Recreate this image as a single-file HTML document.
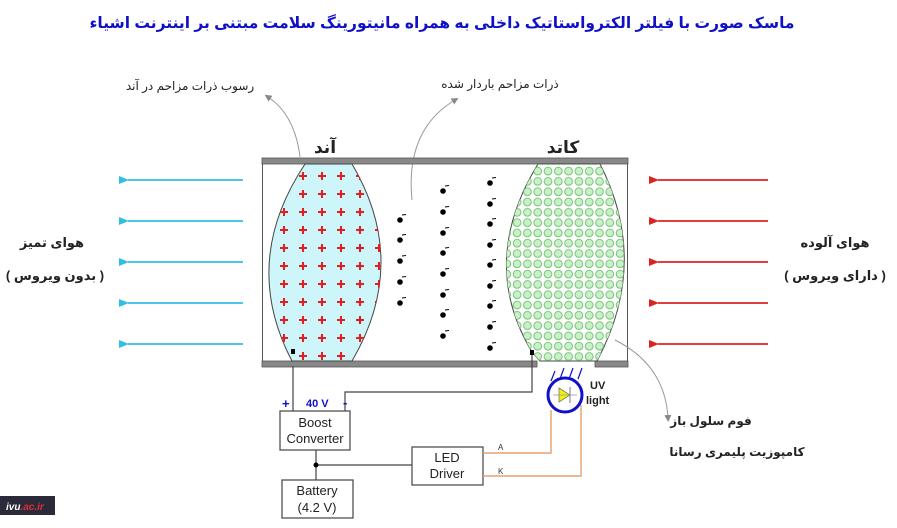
<!DOCTYPE html>
<html><head><meta charset="utf-8"><style>
body{margin:0;background:#fff;width:897px;height:523px;overflow:hidden}
text{font-family:"Liberation Sans","DejaVu Sans",sans-serif}
</style></head><body>
<svg width="897" height="523" viewBox="0 0 897 523" xmlns="http://www.w3.org/2000/svg">
<defs>
<pattern id="pl" x="276" y="171" width="19" height="18" patternUnits="userSpaceOnUse">
<path d="M4 5h8M8 1v8" stroke="#e02020" stroke-width="2"/>
</pattern>
<pattern id="ci" x="512" y="166" width="10.3" height="10.3" patternUnits="userSpaceOnUse">
<circle cx="5.1" cy="5.1" r="3.9" fill="#c9f0c9" stroke="#6cbf6c" stroke-width="0.9"/>
</pattern>
<marker id="ac" markerUnits="userSpaceOnUse" markerWidth="10" markerHeight="10" refX="1" refY="5" orient="auto"><path d="M10,1 L0,5 L10,9z" fill="#2ec0e0"/></marker>
<marker id="ar" markerUnits="userSpaceOnUse" markerWidth="10" markerHeight="10" refX="1" refY="5" orient="auto"><path d="M10,1 L0,5 L10,9z" fill="#dd2222"/></marker>
<marker id="ag" markerUnits="userSpaceOnUse" markerWidth="7" markerHeight="7" refX="3" refY="3.5" orient="auto"><path d="M0,0 L7,3.5 L0,7z" fill="#888"/></marker>
<g id="e1"><circle cx="0" cy="0" r="2.8" fill="#000"/><line x1="2" y1="-5" x2="6" y2="-5.5" stroke="#000" stroke-width="1"/></g>
</defs>
<text x="442" y="28" text-anchor="middle" font-size="15.5" font-weight="bold" fill="#1010c8" font-family="Liberation Sans,Noto Sans CJK SC,sans-serif">ماسک صورت با فیلتر الکترواستاتیک داخلی به همراه مانیتورینگ سلامت مبتنی بر اینترنت اشیاء</text>
<text x="190" y="90" text-anchor="middle" font-size="12" fill="#222">رسوب ذرات مزاحم در آند</text>
<text x="500" y="88" text-anchor="middle" font-size="12" fill="#222">ذرات مزاحم باردار شده</text>
<path d="M300 157 Q295 115 268 97" fill="none" stroke="#999" marker-end="url(#ag)"/>
<path d="M412 200 Q405 130 455 100" fill="none" stroke="#999" marker-end="url(#ag)"/>
<text x="325" y="153" text-anchor="middle" font-size="17" font-weight="bold" fill="#222">آند</text>
<text x="563" y="153" text-anchor="middle" font-size="17" font-weight="bold" fill="#222">کاتد</text>
<rect x="262" y="158" width="366" height="6" fill="#888" stroke="#555" stroke-width="0.8"/>
<rect x="262" y="361" width="275" height="6" fill="#888" stroke="#555" stroke-width="0.8"/>
<rect x="595" y="361" width="33" height="6" fill="#888" stroke="#555" stroke-width="0.8"/>
<line x1="262.5" y1="164" x2="262.5" y2="361" stroke="#555"/>
<line x1="627.5" y1="164" x2="627.5" y2="361" stroke="#555"/>
<path d="M305 164 Q240 262 292 361 L352 361 Q410 262 352 164Z" fill="#cdf5fa" stroke="#444"/>
<path d="M305 164 Q240 262 292 361 L352 361 Q410 262 352 164Z" fill="url(#pl)"/>
<path d="M538 164 Q478 262 532 352 L540 361 L597 361 Q650 262 600 164Z" fill="#fff" stroke="#444"/>
<path d="M538 164 Q478 262 532 352 L540 361 L597 361 Q650 262 600 164Z" fill="url(#ci)"/>
<g>
<use href="#e1" x="400" y="220"/><use href="#e1" x="400" y="240"/><use href="#e1" x="400" y="261"/><use href="#e1" x="400" y="282"/><use href="#e1" x="400" y="303"/>
<use href="#e1" x="443" y="191"/><use href="#e1" x="443" y="212"/><use href="#e1" x="443" y="233"/><use href="#e1" x="443" y="253"/><use href="#e1" x="443" y="274"/><use href="#e1" x="443" y="295"/><use href="#e1" x="443" y="315"/><use href="#e1" x="443" y="336"/>
<use href="#e1" x="490" y="183"/><use href="#e1" x="490" y="204"/><use href="#e1" x="490" y="224"/><use href="#e1" x="490" y="245"/><use href="#e1" x="490" y="265"/><use href="#e1" x="490" y="286"/><use href="#e1" x="490" y="306"/><use href="#e1" x="490" y="327"/><use href="#e1" x="490" y="348"/>
</g>
<g stroke="#2ec0e0" stroke-width="1.8">
<line x1="243" y1="180" x2="128" y2="180" marker-end="url(#ac)"/>
<line x1="243" y1="221" x2="128" y2="221" marker-end="url(#ac)"/>
<line x1="243" y1="262" x2="128" y2="262" marker-end="url(#ac)"/>
<line x1="243" y1="303" x2="128" y2="303" marker-end="url(#ac)"/>
<line x1="243" y1="344" x2="128" y2="344" marker-end="url(#ac)"/>
</g>
<g stroke="#dd2222" stroke-width="1.8">
<line x1="768" y1="180" x2="658" y2="180" marker-end="url(#ar)"/>
<line x1="768" y1="221" x2="658" y2="221" marker-end="url(#ar)"/>
<line x1="768" y1="262" x2="658" y2="262" marker-end="url(#ar)"/>
<line x1="768" y1="303" x2="658" y2="303" marker-end="url(#ar)"/>
<line x1="768" y1="344" x2="658" y2="344" marker-end="url(#ar)"/>
</g>
<g font-size="13" font-weight="bold" fill="#222" text-anchor="middle">
<text x="52" y="247">هوای تمیز</text>
<text x="55" y="280">( بدون ویروس )</text>
<text x="835" y="247">هوای آلوده</text>
<text x="835" y="280">( دارای ویروس )</text>
<text x="711" y="425" font-size="12">فوم سلول باز</text>
<text x="737" y="456" font-size="12">کامپوزیت پلیمری رسانا</text>
</g>
<path d="M615 340 Q665 365 668 418" fill="none" stroke="#999" marker-end="url(#ag)"/>
<g fill="none" stroke="#444" stroke-width="1.2">
<line x1="293" y1="366" x2="293" y2="411"/>
<polyline points="532,352 532,392 345,392 345,411"/>
<line x1="316" y1="450" x2="316" y2="480"/>
<line x1="316" y1="465" x2="412" y2="465"/>
<rect x="280" y="411" width="70" height="39" fill="#fff"/>
<rect x="282" y="480" width="71" height="38" fill="#fff"/>
<rect x="412" y="447" width="71" height="38" fill="#fff"/>
</g>
<rect x="291" y="349" width="4" height="5" fill="#000"/>
<rect x="530" y="350" width="4" height="5" fill="#000"/>
<circle cx="316" cy="465" r="2.5" fill="#000"/>
<g fill="none" stroke="#e8a070" stroke-width="1.4">
<polyline points="483,453 551,453 551,410"/>
<polyline points="483,476 581,476 581,405"/>
</g>
<circle cx="565" cy="395" r="17" fill="#fff" stroke="#1010c8" stroke-width="3"/>
<path d="M559 388 L570 395 L559 402Z" fill="#f2f20a" stroke="#777" stroke-width="0.8"/>
<line x1="570" y1="387" x2="570" y2="403" stroke="#777"/>
<line x1="553" y1="395" x2="577" y2="395" stroke="#999" stroke-width="0.8"/>
<g stroke="#1010c8" stroke-width="1.2">
<line x1="551" y1="381" x2="555" y2="371"/><line x1="560" y1="379" x2="564" y2="368"/><line x1="569" y1="379" x2="573" y2="368"/><line x1="578" y1="379" x2="582" y2="368"/>
</g>
<g font-size="13" fill="#222" text-anchor="middle">
<text x="315" y="427">Boost</text>
<text x="315" y="443">Converter</text>
<text x="317" y="495">Battery</text>
<text x="317" y="512">(4.2 V)</text>
<text x="447" y="462">LED</text>
<text x="447" y="478">Driver</text>
</g>
<text x="498" y="450" font-size="8" fill="#333">A</text>
<text x="498" y="474" font-size="8" fill="#333">K</text>
<text x="590" y="389" font-size="11" font-weight="bold" fill="#222">UV</text>
<text x="586" y="404" font-size="11" font-weight="bold" fill="#222">light</text>
<text x="282" y="408" font-size="13" font-weight="bold" fill="#1010c8">+</text>
<text x="306" y="407" font-size="11" font-weight="bold" fill="#1010c8">40 V</text>
<text x="343" y="407" font-size="13" font-weight="bold" fill="#1010c8">-</text>
<rect x="0" y="496" width="55" height="19" fill="#2a2a3a"/>
<text x="6" y="510" font-size="10" font-style="italic" font-weight="bold" fill="#fff">ivu<tspan fill="#e03030">.ac.ir</tspan></text>
</svg>
</body></html>
